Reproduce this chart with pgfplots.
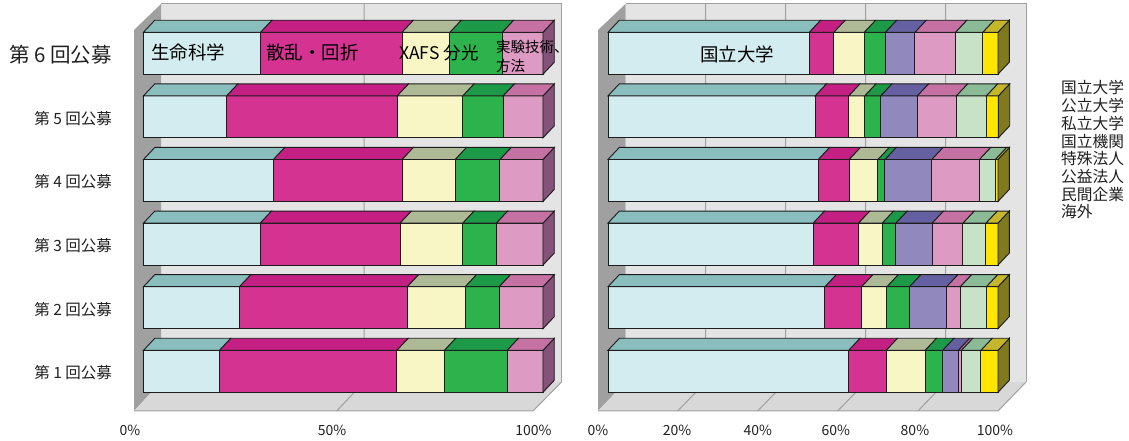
\documentclass[border=0pt]{standalone}
\usepackage{fontspec}
\setmainfont{Noto Sans CJK JP}
\usepackage{pgfplots}
\usepackage{pgfplotstable}
\pgfplotsset{compat=1.18}

\definecolor{edge}{HTML}{1C1C1C}
\definecolor{wall}{HTML}{E4E4E4}
\definecolor{floorc}{HTML}{D8D8D8}
\definecolor{sidewall}{HTML}{A0A0A0}
\definecolor{gridc}{HTML}{A0A0A0}
\definecolor{txt}{HTML}{202020}
% front faces
\definecolor{f1}{HTML}{D3ECF0}
\definecolor{f2}{HTML}{D43392}
\definecolor{f3}{HTML}{F7F6C4}
\definecolor{f4}{HTML}{2DB34B}
\definecolor{f5}{HTML}{9189BD}
\definecolor{f6}{HTML}{DD9AC2}
\definecolor{f7}{HTML}{C8E2C7}
\definecolor{f8}{HTML}{FFE600}
% top faces
\definecolor{t1}{HTML}{8ABDBE}
\definecolor{t2}{HTML}{C41F82}
\definecolor{t3}{HTML}{AEB995}
\definecolor{t4}{HTML}{1C9A47}
\definecolor{t5}{HTML}{6560A2}
\definecolor{t6}{HTML}{C571A3}
\definecolor{t7}{HTML}{8ABB96}
\definecolor{t8}{HTML}{C5B62C}
% end faces
\definecolor{sidepink}{HTML}{85527A}
\definecolor{sideyellow}{HTML}{7F7A1E}

% share of each research field, per call
\pgfplotstableread{
row c1   c2   c3   c4   c6
1   19.0 44.4 11.9 15.7 9.0
2   24.0 42.0 14.5 8.5  11.0
3   29.2 35.0 15.7 8.4  11.7
4   32.5 32.2 13.3 11.2 10.8
5   20.8 42.7 16.4 10.1 10.0
6   29.3 35.4 12.0 13.1 10.2
}\fielddata

% share of each type of institution, per call
\pgfplotstableread{
row c1   c2   c3   c4  c5   c6   c7  c8
1   61.7 9.6  10.0 4.5 4.0  0.8  5.0 4.4
2   55.6 9.4  6.5  5.8 9.5  3.5  6.7 3.0
3   52.6 11.6 6.1  3.5 9.3  7.9  5.9 3.1
4   53.9 7.9  7.4  1.8 12.0 12.2 4.1 0.7
5   53.1 8.6  4.1  4.1 9.4  10.0 7.7 3.1
6   51.6 6.3  7.8  5.4 7.6  10.4 7.0 3.9
}\orgdata

\def\hh{0.330}
\def\dyv{0.189}

% top faces and end face of one stacked bar: table, row, series list, depth in x, end colour
\newcommand\depthfaces[5]{%
  \def\cum{0}%
  \pgfmathtruncatemacro\ri{#2-1}%
  \pgfmathsetmacro\ya{#2+\hh}%
  \pgfmathsetmacro\yb{#2+\hh+\dyv}%
  \pgfmathsetmacro\yc{#2-\hh}%
  \pgfmathsetmacro\yd{#2-\hh+\dyv}%
  \pgfplotsforeachungrouped \s in {#3}{%
    \pgfplotstablegetelem{\ri}{c\s}\of#1%
    \pgfmathsetmacro\nxt{\cum+\pgfplotsretval}%
    \pgfmathsetmacro\cumd{\cum+#4}%
    \pgfmathsetmacro\nxtd{\nxt+#4}%
    \edef\doit{\noexpand\path[fill=t\s,draw=edge,line width=.9pt]
      (axis cs:\cum,\ya) -- (axis cs:\nxt,\ya) -- (axis cs:\nxtd,\yb) -- (axis cs:\cumd,\yb) -- cycle;}%
    \doit
    \let\cum\nxt
  }%
  \pgfmathsetmacro\nxtd{\cum+#4}%
  \edef\doit{\noexpand\path[fill=#5,draw=edge,line width=.9pt]
    (axis cs:\cum,\yc) -- (axis cs:\cum,\ya) -- (axis cs:\nxtd,\yb) -- (axis cs:\nxtd,\yd) -- cycle;}%
  \doit
}

\pgfplotsset{
  boxchart/.style={
    scale only axis, height=407pt,
    ymin=0.376, ymax=6.774,
    xbar stacked, bar width=42pt,
    axis line style={draw=none},
    major tick length=0pt, tick style={draw=none},
    clip=false, anchor=south west,
    ticklabel style={text=txt},
    x tick label style={font=\fontsize{14}{16}\selectfont, anchor=north, yshift=-10.5pt},
    xticklabel pos=lower,
  },
  fieldaxis/.style={boxchart, at={(129.5pt,30pt)}, width=432.5pt, xmin=-3.5, xmax=104.76},
  orgaxis/.style={boxchart, at={(596.3pt,30pt)}, width=429.7pt, xmin=-3, xmax=107.18},
  seg/.style={fill=#1,draw=edge,line width=.9pt},
}

\begin{document}
\begin{tikzpicture}
\path[use as bounding box] (0pt,0pt) rectangle (1129pt,441pt);

% walls and floors of both boxes, laid out from the top-left corner of the page
\begin{scope}[shift={(0pt,441pt)},x=1pt,y=-1pt]
  % left box
  \fill[wall] (161,4) rectangle (561.5,382);
  \draw[gridc,line width=1pt] (161,4) -- (561.5,4) -- (561.5,382);
  \fill[sidewall] (134,30) -- (161,4) -- (161,382) -- (134,411) -- cycle;
  \fill[floorc] (134,411) -- (533,411) -- (561.5,382) -- (161,382) -- cycle;
  \draw[gridc,line width=1pt] (134,411) -- (533,411) -- (561.5,382);
  \draw[gridc,line width=1pt] (364,4) -- (364,382) -- (336.7,411);
  % right box
  \fill[wall] (625.5,4) rectangle (1026,382);
  \draw[gridc,line width=1pt] (625.5,4) -- (1026,4) -- (1026,382);
  \fill[sidewall] (598,30) -- (625.5,4) -- (625.5,382) -- (598,411) -- cycle;
  \fill[floorc] (598,411) -- (998,411) -- (1026,382) -- (625.5,382) -- cycle;
  \draw[gridc,line width=1pt] (598,411) -- (998,411) -- (1026,382);
  \draw[gridc,line width=1pt] (705.7,4) -- (705.7,382) -- (677.7,411);
  \draw[gridc,line width=1pt] (785.7,4) -- (785.7,382) -- (757.7,411);
  \draw[gridc,line width=1pt] (865.7,4) -- (865.7,382) -- (837.7,411);
  \draw[gridc,line width=1pt] (945.7,4) -- (945.7,382) -- (918,411);
\end{scope}

% research fields
\begin{axis}[fieldaxis,
  xtick={-3.38,47.2,97.6}, xticklabels={0\%,50\%,100\%},
  ytick={1,2,3,4,5,6},
  yticklabels={第 1 回公募,第 2 回公募,第 3 回公募,第 4 回公募,第 5 回公募,{\raisebox{1.5pt}{\fontsize{20.5}{22}\selectfont 第 6 回公募}}},
  y tick label style={font=\fontsize{15.5}{17}\selectfont, anchor=east, xshift=-14pt, yshift=-1.5pt},
]
\addplot[seg=f1] table[x=c1,y=row]{\fielddata};
\addplot[seg=f2] table[x=c2,y=row]{\fielddata};
\addplot[seg=f3] table[x=c3,y=row]{\fielddata};
\addplot[seg=f4] table[x=c4,y=row]{\fielddata};
\addplot[seg=f6] table[x=c6,y=row]{\fielddata};
\end{axis}
\begin{axis}[fieldaxis, xtick=\empty, ytick=\empty]
\depthfaces{\fielddata}{1}{1,2,3,4,6}{2.83}{sidepink}
\depthfaces{\fielddata}{2}{1,2,3,4,6}{2.83}{sidepink}
\depthfaces{\fielddata}{3}{1,2,3,4,6}{2.83}{sidepink}
\depthfaces{\fielddata}{4}{1,2,3,4,6}{2.83}{sidepink}
\depthfaces{\fielddata}{5}{1,2,3,4,6}{2.83}{sidepink}
\depthfaces{\fielddata}{6}{1,2,3,4,6}{2.83}{sidepink}
\end{axis}

% institution types
\begin{axis}[orgaxis,
  xtick={-2.56,17.7,38.4,58.4,78.7,99.2},
  xticklabels={0\%,20\%,40\%,60\%,80\%,100\%},
  ytick=\empty,
]
\addplot[seg=f1] table[x=c1,y=row]{\orgdata};
\addplot[seg=f2] table[x=c2,y=row]{\orgdata};
\addplot[seg=f3] table[x=c3,y=row]{\orgdata};
\addplot[seg=f4] table[x=c4,y=row]{\orgdata};
\addplot[seg=f5] table[x=c5,y=row]{\orgdata};
\addplot[seg=f6] table[x=c6,y=row]{\orgdata};
\addplot[seg=f7] table[x=c7,y=row]{\orgdata};
\addplot[seg=f8] table[x=c8,y=row]{\orgdata};
\end{axis}
\begin{axis}[orgaxis, xtick=\empty, ytick=\empty]
\depthfaces{\orgdata}{1}{1,2,3,4,5,6,7,8}{2.9}{sideyellow}
\depthfaces{\orgdata}{2}{1,2,3,4,5,6,7,8}{2.9}{sideyellow}
\depthfaces{\orgdata}{3}{1,2,3,4,5,6,7,8}{2.9}{sideyellow}
\depthfaces{\orgdata}{4}{1,2,3,4,5,6,7,8}{2.9}{sideyellow}
\depthfaces{\orgdata}{5}{1,2,3,4,5,6,7,8}{2.9}{sideyellow}
\depthfaces{\orgdata}{6}{1,2,3,4,5,6,7,8}{2.9}{sideyellow}
\end{axis}

% captions on the topmost bars and the list of institution types
\begin{scope}[shift={(0pt,441pt)},x=1pt,y=-1pt,every node/.style={text=black,inner sep=0pt,anchor=west}]
  \node[font=\fontsize{18.5}{20}\selectfont] at (151,52.5) {生命科学};
  \node[font=\fontsize{18.5}{20}\selectfont] at (266,52.5) {散乱・回折};
  \node[font=\fontsize{17.5}{20}\selectfont] at (399,52.5) {XAFS 分光};
  \node[font=\fontsize{14.5}{19}\selectfont,align=left] at (496,57) {実験技術、\\方法};
  \node[font=\fontsize{18.5}{20}\selectfont] at (700,54) {国立大学};
  \foreach \y/\t in {88/国立大学,106/公立大学,124/私立大学,142/国立機関,159/特殊法人,177/公益法人,195/民間企業,212/海外}
    \node[font=\fontsize{15.7}{16}\selectfont,text=txt] at (1061,\y) {\t};
\end{scope}
\end{tikzpicture}
\end{document}
